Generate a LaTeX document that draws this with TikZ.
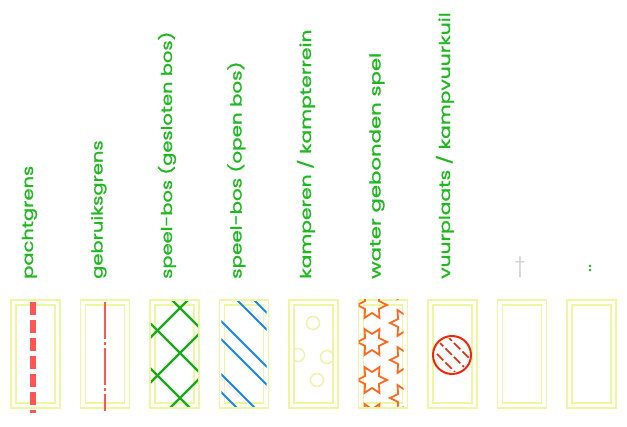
\documentclass[tikz,border=0pt]{standalone}
\usepackage{fontspec}
\setmainfont{Poppins}
\newfontfamily\lblfont{Poppins}[FakeStretch=1.3,FakeBold=1.3]
\usetikzlibrary{calc}
\definecolor{lblgreen}{RGB}{30,185,30}
\definecolor{boxy}{RGB}{238,246,160}
\definecolor{redl}{RGB}{255,85,85}
\definecolor{greenh}{RGB}{25,170,25}
\definecolor{blueh}{RGB}{25,135,235}
\definecolor{orangeh}{RGB}{255,105,30}
\definecolor{firered}{RGB}{238,40,10}
\definecolor{octoc}{RGB}{242,242,175}
\begin{document}
\begin{tikzpicture}[x=1pt,y=-1pt,
  legbox/.style={draw=boxy,line width=1.4pt,double=white,double distance=3.6pt,
    minimum width=44pt,minimum height=103pt,inner sep=0pt},
  lbl/.style={rotate=90,anchor=base west,inner sep=0pt,text=lblgreen,
    font=\lblfont\fontsize{15}{15}\selectfont},
  hatchg/.style={draw=greenh,line width=2.4pt},
  hatchb/.style={draw=blueh,line width=2pt},
  starline/.style={draw=orangeh,line width=1.8pt,line join=miter},
  octo/.style={draw=octoc,line width=1.6pt},
  firecirc/.style={circle,draw=firered,line width=2pt,minimum size=38pt,inner sep=0pt}]
\useasboundingbox (0,0) rectangle (627,427);
% legend boxes
\foreach \i in {1,...,9}{
  \node[legbox] (b\i) at ({35.5+69.5*(\i-1)},354) {};
}
% labels
\node[lbl] (t1) at (33,279) {pachtgrens};
\node[lbl] (t2) at (102.5,279) {gebruiksgrens};
\node[lbl] (t3) at (172,279) {speel-bos (gesloten bos)};
\node[lbl] (t4) at (241.5,279) {\scalebox{1.02}[1]{speel-bos (open bos)}};
\node[lbl] (t5) at (311,279) {\scalebox{1.04}[1]{kamperen / kampterrein}};
\node[lbl] (t6) at (380.5,279) {\scalebox{1.09}[1]{water gebonden spel}};
\node[lbl] (t7) at (450,279) {\scalebox{1.04}[1]{vuurplaats / kampvuurkuil}};
\node[text=black!18,font=\fontsize{20}{20}\selectfont,inner sep=0pt] (t8) at (520,267) {\dag};
\node[lbl,anchor=center] (t9) at (590,268) {..};
% 1 pachtgrens
\draw[redl,line width=6pt,dash pattern=on 13pt off 5pt]
  ([xshift=-2.5pt,yshift=-0.5pt]b1.north) -- ([xshift=-2.5pt,yshift=-6.5pt]b1.south);
% 2 gebruiksgrens
\draw[redl,line width=2pt,dash pattern=on 37pt off 3pt on 3pt off 3pt]
  ([yshift=-0.5pt]b2.north) -- ([yshift=-4.5pt]b2.south);
% 3 crosshatch
\begin{scope}
  \clip ([xshift=-1pt]b3.south west) rectangle ([xshift=1pt]b3.north east);
  \foreach \k in {-3,...,3}{
    \pgfmathsetmacro\ca{128+45*\k}
    \pgfmathsetmacro\cb{488+45*\k}
    \draw[hatchg] (130,130+\ca) -- (220,220+\ca);
    \draw[hatchg] (130,\cb-130) -- (220,\cb-220);
  }
\end{scope}
% 4 open hatch
\begin{scope}
  \clip (b4.south west) rectangle (b4.north east);
  \foreach \c in {46,63,100,118,153,171}{
    \draw[hatchb] (200,200+\c) -- (280,280+\c);
  }
\end{scope}
% 5 kamperen
\begin{scope}
  \clip ([xshift=3pt,yshift=3pt]b5.south west) rectangle ([xshift=-3pt,yshift=-3pt]b5.north east);
  \foreach \ox/\oy in {313/323,298/355,327/357,317/380}{
    \draw[octo] (\ox,\oy) circle (6.5);
  }
\end{scope}
% 6 stars
\begin{scope}
  \clip (358.5,300) rectangle (403.5,407);
  \foreach \sx/\sy in {372/305,372/342,372/380,372/417,405/286,405/323,405/360,405/398}{
    \draw[starline] ($(\sx,\sy)+(0:15)$) -- ($(\sx,\sy)+(30:8)$) -- ($(\sx,\sy)+(60:15)$)
      -- ($(\sx,\sy)+(90:8)$) -- ($(\sx,\sy)+(120:15)$) -- ($(\sx,\sy)+(150:8)$)
      -- ($(\sx,\sy)+(180:15)$) -- ($(\sx,\sy)+(210:8)$) -- ($(\sx,\sy)+(240:15)$)
      -- ($(\sx,\sy)+(270:8)$) -- ($(\sx,\sy)+(300:15)$) -- ($(\sx,\sy)+(330:8)$) -- cycle;
  }
\end{scope}
% 7 vuurplaats
\node[firecirc] (fire) at (452,355) {};
\begin{scope}
  \clip (fire.center) circle (17);
  \foreach \d in {-14,0,14}{
    \draw[firered,line width=1.6pt,dash pattern=on 9pt off 3pt]
      (420,{355-452+\d+420}) -- (485,{355-452+\d+485});
  }
\end{scope}
\end{tikzpicture}
\end{document}
